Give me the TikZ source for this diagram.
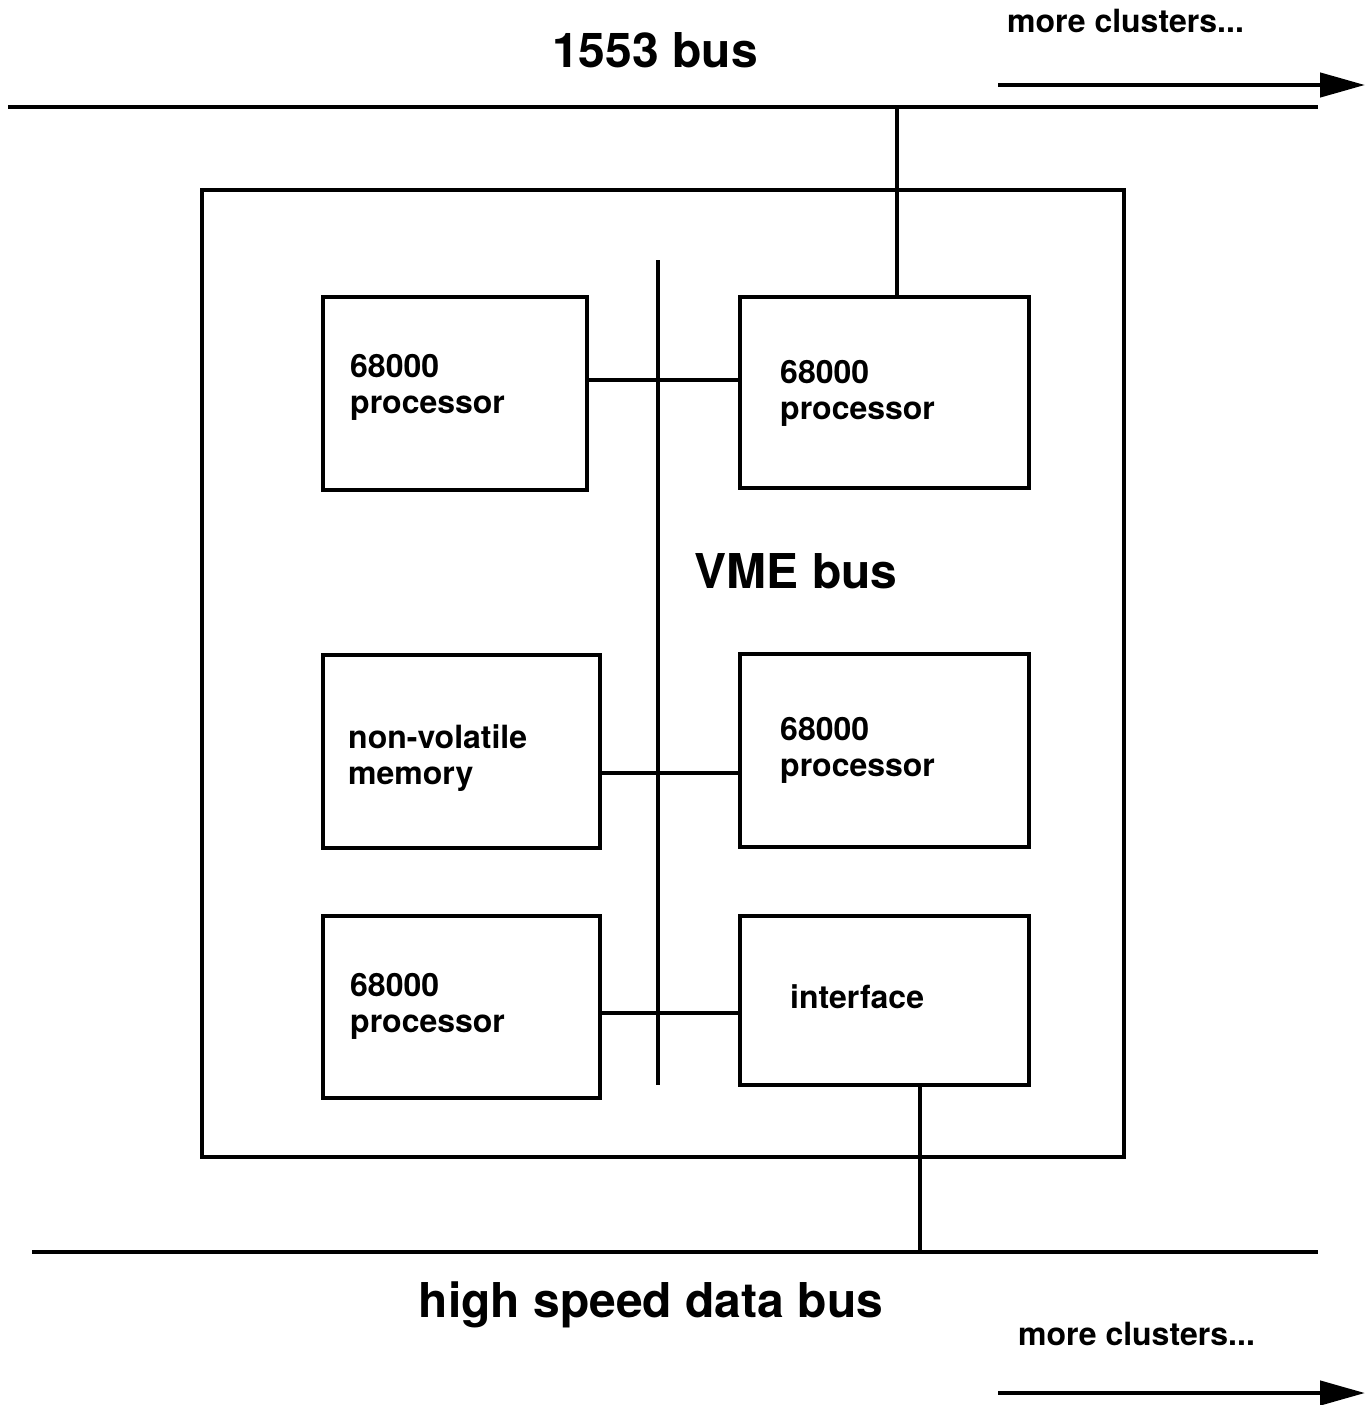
\documentclass[tikz,border=0pt]{standalone}
\usepackage{fontspec}
\setmainfont{TeX Gyre Heros}
\usetikzlibrary{arrows.meta}
\tikzset{
  unitbox/.style={draw, line width=4.5pt, inner sep=0pt, outer sep=0pt},
  small/.style={inner sep=0pt, anchor=base west, font=\bfseries\fontsize{32}{36}\selectfont},
  big/.style={inner sep=0pt, anchor=base, font=\bfseries\fontsize{48}{54}\selectfont},
  bus/.style={line width=4.5pt},
  conn/.style={line width=3.5pt},
  moreArrow/.style={line width=4.5pt, -{Triangle[length=45pt,width=24pt]}}
}
\begin{document}
\begin{tikzpicture}[x=1pt,y=-1pt]
\useasboundingbox (0,0) rectangle (1371,1405);
% outer cluster box
\node[unitbox, minimum width=922pt, minimum height=967pt] (cluster) at (663,673.5) {};
% unit boxes
\node[unitbox, minimum width=264pt, minimum height=193pt] (TL) at (455,393.5) {};
\node[unitbox, minimum width=289pt, minimum height=191pt] (TR) at (884.5,392.5) {};
\node[unitbox, minimum width=277pt, minimum height=193pt] (ML) at (461.5,751.5) {};
\node[unitbox, minimum width=289pt, minimum height=193pt] (MR) at (884.5,750.5) {};
\node[unitbox, minimum width=277pt, minimum height=182pt] (BL) at (461.5,1007) {};
\node[unitbox, minimum width=289pt, minimum height=169pt] (BR) at (884.5,1000.5) {};
% texts
\node[small] (tTLa) at (350,377) {68000};
\node[small] (tTLb) at (350,413) {processor};
\node[small] (tTRa) at (780,383) {68000};
\node[small] (tTRb) at (780,419) {processor};
\node[small] (tMLa) at (348,748) {non-volatile};
\node[small] (tMLb) at (348,784) {memory};
\node[small] (tMRa) at (780,740) {68000};
\node[small] (tMRb) at (780,776) {processor};
\node[small] (tBLa) at (350,996) {68000};
\node[small] (tBLb) at (350,1032) {processor};
\node[small] (tBR) at (790,1008) {interface};
% bus labels
\node[big] (l1553) at (655,67) {1553 bus};
\node[big] (lvme) at (796,588) {VME bus};
\node[big] (lhs) at (651,1317) {high speed data bus};
\node[small] (more1) at (1007,33) {more clusters...};
\node[small] (more2) at (1018,1345) {more clusters...};
% buses
\coordinate (b1L) at (8,107);
\coordinate (b1R) at (1318,107);
\coordinate (b2L) at (32,1252);
\coordinate (b2R) at (1318,1252);
\draw[bus] (b1L) -- (b1R);
\draw[bus] (b2L) -- (b2R);
% arrows
\coordinate (a1s) at (998,85);
\coordinate (a1e) at (1365,85);
\coordinate (a2s) at (998,1393);
\coordinate (a2e) at (1365,1393);
\draw[moreArrow] (a1s) -- (a1e);
\draw[moreArrow] (a2s) -- (a2e);
% VME bus
\coordinate (vmeT) at (658,260);
\coordinate (vmeB) at (658,1085);
\draw[line width=3.5pt] (vmeT) -- (vmeB);
% connectors
\coordinate (c1) at (658,380);
\coordinate (c2) at (658,773);
\coordinate (c3) at (658,1013);
\draw[conn] (TL.east |- c1) -- (TR.west |- c1);
\draw[conn] (ML.east |- c2) -- (MR.west |- c2);
\draw[conn] (BL.east |- c3) -- (BR.west |- c3);
\coordinate (tap1) at (897,107);
\coordinate (tap2) at (920,1252);
\draw[conn] (tap1) -- (tap1 |- TR.north);
\draw[conn] (BR.south -| tap2) -- (tap2);
\end{tikzpicture}
\end{document}
